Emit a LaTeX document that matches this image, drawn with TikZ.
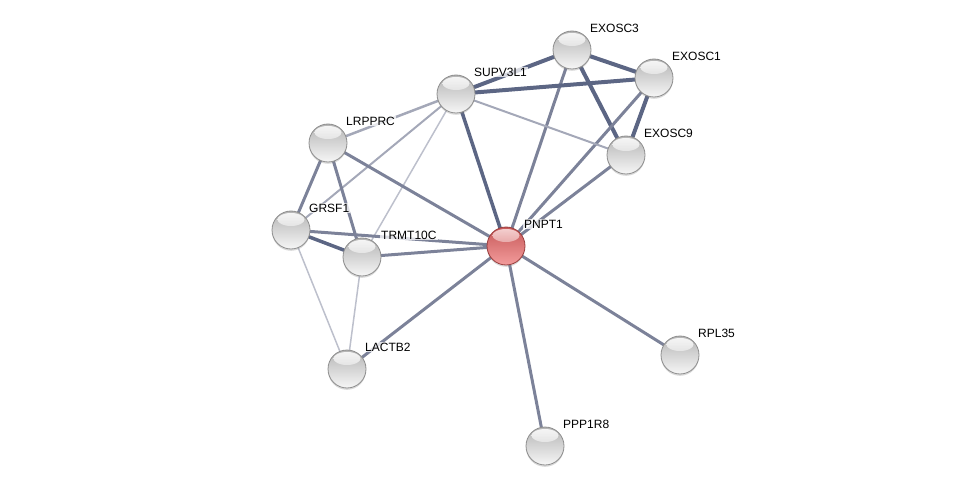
\documentclass[tikz,border=0pt]{standalone}
\usepackage{fontspec}
\setmainfont{Liberation Sans}
\usetikzlibrary{backgrounds,shadows}
\definecolor{edgeA}{HTML}{5C6684}
\definecolor{edgeB}{HTML}{7C8299}
\definecolor{edgeC}{HTML}{A4A8B8}
\definecolor{edgeD}{HTML}{BDC0CC}
\definecolor{gTop}{HTML}{B4B4B4}
\definecolor{gBot}{HTML}{F6F6F6}
\definecolor{gRim}{HTML}{8E8E8E}
\definecolor{gHiB}{HTML}{C4C4C4}
\definecolor{rTop}{HTML}{C65858}
\definecolor{rBot}{HTML}{F39C9C}
\definecolor{rRim}{HTML}{9A3E3E}
\definecolor{rHiT}{HTML}{FBE0E0}
\definecolor{rHiB}{HTML}{D06A6A}
\tikzset{
  prot/.style={circle, minimum size=38pt, inner sep=0pt,
    top color=gTop, bottom color=gBot, draw=gRim, line width=0.8pt,
    drop shadow={shadow xshift=0pt, shadow yshift=-1.8pt, opacity=0.3},
    path picture={\shade[top color=white, bottom color=gHiB, opacity=0.9]
      (0,10.5pt) ellipse (13.5pt and 6.5pt);}},
  hub/.style={circle, minimum size=38pt, inner sep=0pt,
    top color=rTop, bottom color=rBot, draw=rRim, line width=0.8pt,
    drop shadow={shadow xshift=0pt, shadow yshift=-1.8pt, opacity=0.3},
    path picture={\shade[top color=rHiT, bottom color=rHiB, opacity=0.9]
      (0,10.5pt) ellipse (13.5pt and 6.5pt);}},
  lab/.style={font=\fontsize{12}{14}\selectfont, anchor=west, inner sep=1pt,
    fill=white, fill opacity=0.75, text opacity=1},
  ethick/.style={draw=edgeA, line width=4pt},
  emid/.style={draw=edgeB, line width=3pt},
  elight/.style={draw=edgeC, line width=2pt},
  ethin/.style={draw=edgeD, line width=1.5pt},
}
\begin{document}
\begin{tikzpicture}[x=1pt,y=-1pt]
\useasboundingbox (0,0) rectangle (975,492);
\node[prot] (exosc3) at (572,50) {};
\node[prot] (exosc1) at (654,78) {};
\node[prot] (supv) at (456,94) {};
\node[prot] (exosc9) at (626,155) {};
\node[prot] (lrpprc) at (328,143) {};
\node[prot] (grsf1) at (291,230) {};
\node[prot] (trmt) at (362,257) {};
\node[hub] (pnpt1) at (506,246) {};
\node[prot] (rpl35) at (680,355) {};
\node[prot] (lactb2) at (347,369) {};
\node[prot] (ppp1r8) at (545,446) {};

\begin{scope}[on background layer]
\draw[ethick] (exosc3.center) -- (exosc1.center);
\draw[ethick] (exosc3.center) -- (supv.center);
\draw[ethick] (exosc3.center) -- (exosc9.center);
\draw[emid] (exosc3.center) -- (pnpt1.center);
\draw[ethick] (exosc1.center) -- (supv.center);
\draw[ethick] (exosc1.center) -- (exosc9.center);
\draw[emid] (exosc1.center) -- (pnpt1.center);
\draw[emid] (exosc9.center) -- (pnpt1.center);
\draw[elight] (exosc9.center) -- (supv.center);
\draw[ethick, line width=3.5pt] (supv.center) -- (pnpt1.center);
\draw[elight, line width=2.5pt] (supv.center) -- (lrpprc.center);
\draw[elight] (supv.center) -- (grsf1.center);
\draw[ethin] (supv.center) -- (trmt.center);
\draw[emid] (lrpprc.center) -- (pnpt1.center);
\draw[emid] (lrpprc.center) -- (grsf1.center);
\draw[emid] (lrpprc.center) -- (trmt.center);
\draw[ethick, line width=3.5pt] (grsf1.center) -- (trmt.center);
\draw[emid] (grsf1.center) -- (pnpt1.center);
\draw[ethin] (grsf1.center) -- (lactb2.center);
\draw[emid] (trmt.center) -- (pnpt1.center);
\draw[ethin] (trmt.center) -- (lactb2.center);
\draw[emid] (lactb2.center) -- (pnpt1.center);
\draw[emid] (pnpt1.center) -- (rpl35.center);
\draw[emid] (pnpt1.center) -- (ppp1r8.center);
\end{scope}

\node[lab] (l1) at ([xshift=17pt,yshift=22pt]exosc3.center) {EXOSC3};
\node[lab] (l2) at ([xshift=17pt,yshift=22pt]exosc1.center) {EXOSC1};
\node[lab] (l3) at ([xshift=17pt,yshift=22pt]supv.center) {SUPV3L1};
\node[lab] (l4) at ([xshift=17pt,yshift=22pt]exosc9.center) {EXOSC9};
\node[lab] (l5) at ([xshift=17pt,yshift=22pt]lrpprc.center) {LRPPRC};
\node[lab] (l6) at ([xshift=17pt,yshift=22pt]grsf1.center) {GRSF1};
\node[lab] (l7) at ([xshift=18pt,yshift=22pt]trmt.center) {TRMT10C};
\node[lab] (l8) at ([xshift=17pt,yshift=22pt]pnpt1.center) {PNPT1};
\node[lab] (l9) at ([xshift=17pt,yshift=22pt]rpl35.center) {RPL35};
\node[lab] (l10) at ([xshift=17pt,yshift=22pt]lactb2.center) {LACTB2};
\node[lab] (l11) at ([xshift=17pt,yshift=22pt]ppp1r8.center) {PPP1R8};
\end{tikzpicture}
\end{document}
